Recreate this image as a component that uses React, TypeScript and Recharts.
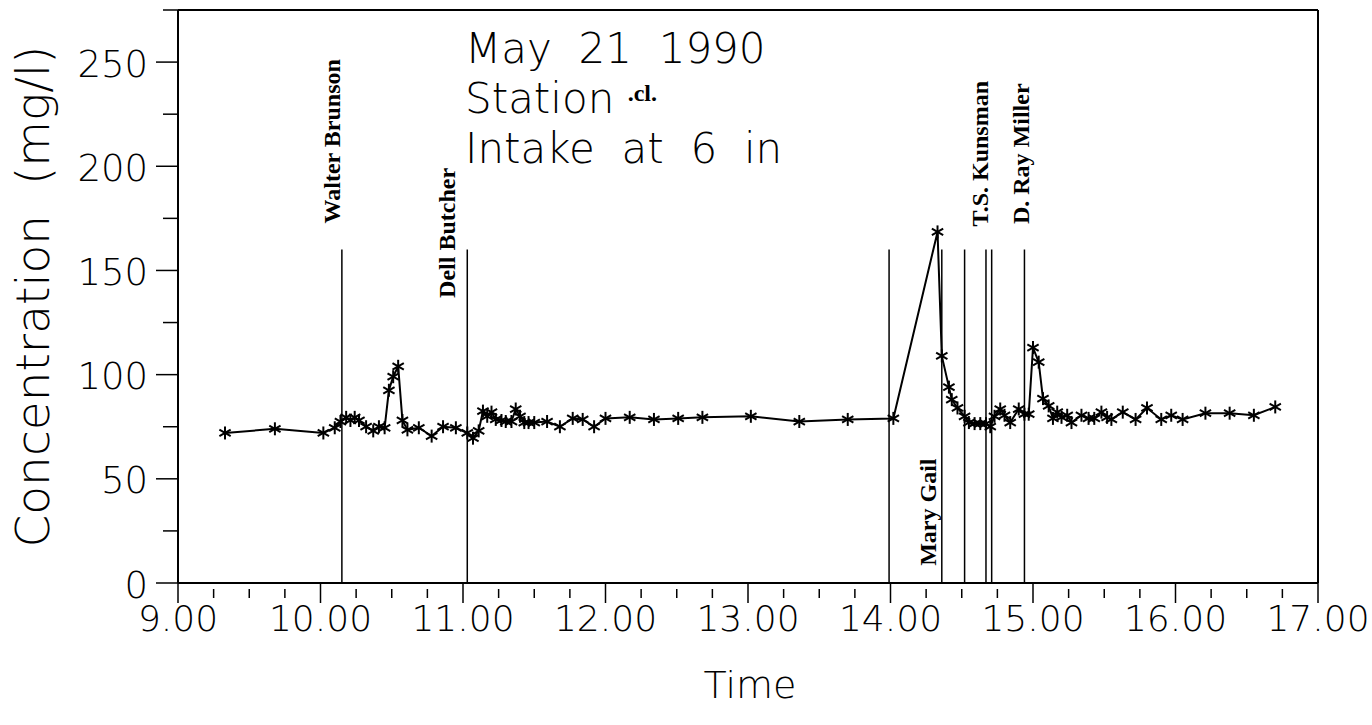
import { Label, Line, LineChart, ReferenceLine, XAxis, YAxis } from "recharts";

const TIMES = [
  9.33, 9.68, 10.02, 10.1, 10.14, 10.18, 10.21, 10.24, 10.27, 10.32, 10.37,
  10.41, 10.45, 10.48, 10.51, 10.545, 10.575, 10.61, 10.69, 10.78, 10.86,
  10.95, 11.03, 11.07, 11.11, 11.14, 11.17, 11.2, 11.23, 11.27, 11.3, 11.34,
  11.37, 11.4, 11.43, 11.46, 11.5, 11.59, 11.68, 11.77, 11.84, 11.92, 12.0,
  12.17, 12.34, 12.51, 12.68, 13.02, 13.36, 13.7, 14.02, 14.33, 14.36, 14.41,
  14.43, 14.47, 14.52, 14.55, 14.59, 14.63, 14.67, 14.7, 14.73, 14.77, 14.8,
  14.84, 14.9, 14.94, 14.97, 15.0, 15.04, 15.07, 15.11, 15.14, 15.17, 15.2,
  15.24, 15.27, 15.34, 15.39, 15.43, 15.48, 15.52, 15.55, 15.63, 15.72, 15.8,
  15.9, 15.97, 16.05, 16.21, 16.38, 16.55, 16.7,
];

const CONC = [
  72, 74, 72, 74.5, 77.5, 79.5, 78, 79.5, 78, 75, 73,
  75, 74.5, 92.5, 99, 104, 78, 73.5, 74.5, 70.5, 75,
  74.5, 72, 69.5, 73, 82.5, 80, 82, 78.5, 78, 77.5, 77.5,
  83.5, 80, 77, 77, 77, 77.5, 75, 79, 78.5, 75, 79,
  79.5, 78.5, 79, 79.5, 80, 77.5, 78.5, 79, 168.5, 109, 94,
  88, 84, 80, 77, 76.5, 76.5, 76.5, 75, 80, 83.5, 80.5,
  77, 83.5, 81, 81, 113, 106, 88.5, 85, 79, 82, 79.5,
  80.5, 77, 80.5, 79, 79, 82, 79.5, 78.5, 82, 78.5, 84,
  78.5, 80.5, 78.5, 81.5, 81.5, 80.5, 84.5,
];

// boats passing the station
const EVENT_TIMES = [10.15, 11.03, 13.99, 14.36, 14.52, 14.67, 14.71, 14.94];
const EVENT_NAMES = [
  "Walter Brunson",
  "Dell Butcher",
  "",
  "Mary Gail",
  "",
  "T.S. Kunsman",
  "",
  "D. Ray Miller",
];
const EVENT_TOP = 160;

// where each name sits: px offset from its line, and the value at its centre
const LABEL_PLACE: Record<string, { dx: number; at: number }> = {
  "Walter Brunson": { dx: -10, at: 212 },
  "Dell Butcher": { dx: -20, at: 168 },
  "Mary Gail": { dx: -14, at: 34 },
  "T.S. Kunsman": { dx: -6, at: 206 },
  "D. Ray Miller": { dx: -3, at: 206 },
};

const X_MAJOR = [9, 10, 11, 12, 13, 14, 15, 16, 17];
const Y_MAJOR = [0, 50, 100, 150, 200, 250];

const xTicks = X_MAJOR.flatMap((t) =>
  t === 17 ? [t] : [t, t + 0.25, t + 0.5, t + 0.75]
);
const yTicks = Y_MAJOR.flatMap((v) => [v, v + 25]);

const data = TIMES.map((t, i) => ({ t, c: CONC[i] }));

const THIN = "'DejaVu Sans', sans-serif";
const SERIF = "'Liberation Serif', 'Times New Roman', serif";

function Star(props: { cx?: number; cy?: number }) {
  const { cx, cy } = props;
  if (cx == null || cy == null) return null;
  const r = 6.5;
  const dx = r * 0.87;
  const dy = r * 0.5;
  return (
    <g stroke="#000" strokeWidth={2}>
      <line x1={cx} y1={cy - r} x2={cx} y2={cy + r} />
      <line x1={cx - dx} y1={cy - dy} x2={cx + dx} y2={cy + dy} />
      <line x1={cx - dx} y1={cy + dy} x2={cx + dx} y2={cy - dy} />
    </g>
  );
}

function XTick({ x, y, payload }: any) {
  const v = payload.value as number;
  const major = Math.abs(v - Math.round(v)) < 1e-6;
  if (!major) {
    return <line x1={x} y1={y + 6} x2={x} y2={y + 15} stroke="#000" strokeWidth={1.5} />;
  }
  return (
    <g>
      <line x1={x} y1={y} x2={x} y2={y + 20} stroke="#000" strokeWidth={1.5} />
      <text
        x={x}
        y={y + 35}
        textAnchor="middle"
        dominantBaseline="central"
        fontFamily={THIN}
        fontWeight={200}
        fontSize={36}
        fill="#000"
      >
        {v.toFixed(2)}
      </text>
    </g>
  );
}

function YTick({ x, y, payload }: any) {
  const v = payload.value as number;
  if (v % 50 !== 0) {
    return <line x1={x - 15} y1={y} x2={x} y2={y} stroke="#000" strokeWidth={1.5} />;
  }
  return (
    <g>
      <line x1={x - 22} y1={y} x2={x} y2={y} stroke="#000" strokeWidth={1.5} />
      <text
        x={x - 30}
        y={y + 2}
        textAnchor="end"
        dominantBaseline="central"
        fontFamily={THIN}
        fontWeight={200}
        fontSize={37}
        fill="#000"
      >
        {v}
      </text>
    </g>
  );
}

function eventLabel(name: string) {
  const place = LABEL_PLACE[name];
  if (!place) return undefined;
  return (props: any) => {
    const vb = props.viewBox;
    if (!vb) return null;
    const cx = vb.x + place.dx;
    const cy = vb.y + vb.height - (place.at * vb.height) / EVENT_TOP;
    return (
      <text
        x={cx}
        y={cy}
        transform={`rotate(-90 ${cx} ${cy})`}
        textAnchor="middle"
        dominantBaseline="central"
        fontFamily={SERIF}
        fontWeight="bold"
        fontSize={24}
        fill="#000"
      >
        {name}
      </text>
    );
  };
}

export default function App() {
  return (
    <div
      style={{
        position: "absolute",
        left: 0,
        top: 0,
        width: 1372,
        height: 725,
        background: "#fff",
      }}
    >
      <LineChart
        width={1372}
        height={725}
        data={data}
        margin={{ top: 10, right: 54, left: 58, bottom: 42 }}
      >
        <XAxis
          dataKey="t"
          type="number"
          domain={[9, 17]}
          ticks={xTicks}
          interval={0}
          tickSize={0}
          tickMargin={0}
          tickLine={false}
          tick={<XTick />}
          axisLine={{ stroke: "#000", strokeWidth: 2 }}
          height={100}
          allowDataOverflow
        >
          <Label
            content={(p: any) => {
              const vb = p.viewBox;
              return (
                <text
                  x={vb.x + vb.width / 2 + 2}
                  y={685}
                  textAnchor="middle"
                  dominantBaseline="central"
                  fontFamily={THIN}
                  fontWeight={200}
                  fontSize={38}
                  fill="#000"
                >
                  Time
                </text>
              );
            }}
          />
        </XAxis>
        <YAxis
          type="number"
          domain={[0, 275]}
          ticks={yTicks.filter((v) => v <= 275)}
          interval={0}
          tickSize={0}
          tickMargin={0}
          tickLine={false}
          tick={<YTick />}
          axisLine={{ stroke: "#000", strokeWidth: 2 }}
          width={120}
          allowDataOverflow
        >
          <Label
            content={(p: any) => {
              const vb = p.viewBox;
              const cx = 32;
              const cy = vb.y + vb.height / 2;
              return (
                <text
                  x={cx}
                  y={cy}
                  transform={`rotate(-90 ${cx} ${cy})`}
                  textAnchor="middle"
                  dominantBaseline="central"
                  fontFamily={THIN}
                  fontWeight={200}
                  fontSize={47}
                  fill="#000"
                  xmlSpace="preserve"
                >
                  {"Concentration  (mg/l)"}
                </text>
              );
            }}
          />
        </YAxis>
        <ReferenceLine y={275} stroke="#000" strokeWidth={2} />
        <ReferenceLine x={17} stroke="#000" strokeWidth={2} />
        {EVENT_TIMES.map((t, i) => (
          <ReferenceLine
            key={i}
            segment={[
              { x: t, y: 0 },
              { x: t, y: EVENT_TOP },
            ]}
            stroke="#000"
            strokeWidth={1.5}
            label={eventLabel(EVENT_NAMES[i])}
          />
        ))}
        <Line
          type="linear"
          dataKey="c"
          stroke="#000"
          strokeWidth={2}
          dot={<Star />}
          activeDot={false}
          isAnimationActive={false}
        />
      </LineChart>
      <svg
        width={1372}
        height={725}
        style={{ position: "absolute", left: 0, top: 0, pointerEvents: "none" }}
      >
        <g fontFamily={THIN} fontWeight={200} fontSize={42} fill="#000">
          <text x={465} y={63} xmlSpace="preserve">
            {"May  21  1990"}
          </text>
          <text x={465} y={113} xmlSpace="preserve">
            {"Station "}
            <tspan fontFamily={SERIF} fontWeight="bold" fontSize={24} dy={-12}>
              .cl.
            </tspan>
          </text>
          <text x={465} y={163} xmlSpace="preserve">
            {"Intake  at  6  in"}
          </text>
        </g>
      </svg>
    </div>
  );
}
